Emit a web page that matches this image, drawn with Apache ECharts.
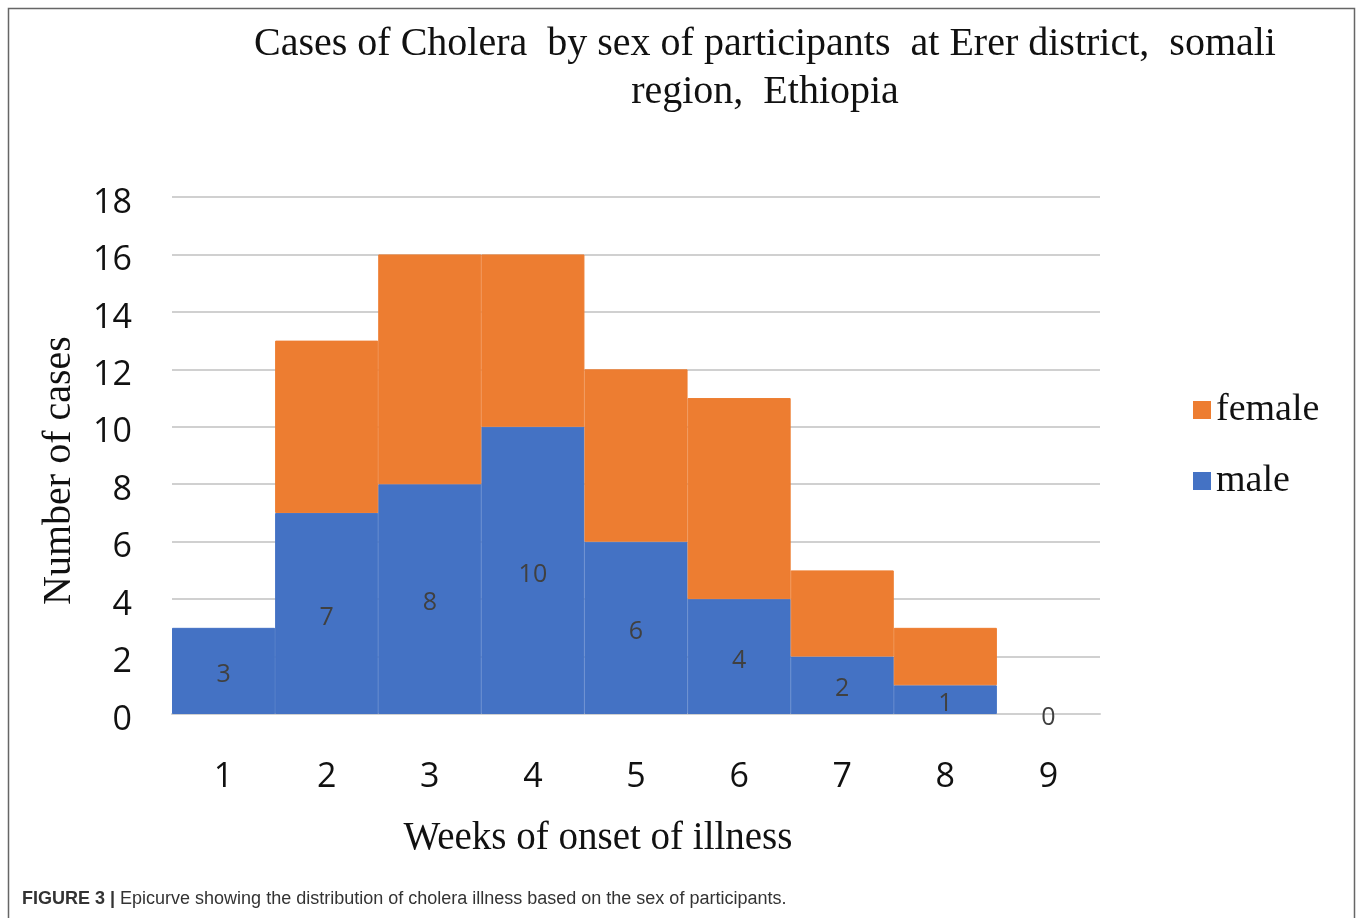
<!DOCTYPE html>
<html>
<head>
<meta charset="utf-8">
<script src="https://cdn.jsdelivr.net/npm/echarts@6/dist/echarts.min.js"></script>
<style>
  html, body { margin: 0; padding: 0; background: #fff; }
  #chart { width: 1358px; height: 918px; }
</style>
</head>
<body>
<div id="chart"></div>
<script>
  // weeks of onset
  var weeks = ['1', '2', '3', '4', '5', '6', '7', '8', '9'];
  // cases per week, by sex
  var male = [3, 7, 8, 10, 6, 4, 2, 1, 0];
  var female = [0, 6, 8, 6, 6, 7, 3, 2, 0];

  var serif = '"Liberation Serif", "DejaVu Serif", serif';
  var sans = '"Open Sans", "Liberation Sans", sans-serif';

  // same-colour border hides the seams between touching bars, none on empty bars
  function bars(values, color) {
    return values.map(function (v) {
      return { value: v, itemStyle: { borderColor: color, borderWidth: v > 0 ? 1 : 0 } };
    });
  }

  var chart = echarts.init(document.getElementById('chart'));
  chart.setOption({
    backgroundColor: '#fff',
    animation: false,
    title: {
      text: 'Cases of Cholera  by sex of participants  at Erer district,  somali\nregion,  Ethiopia',
      left: 760,
      top: 15,
      textAlign: 'center',
      textStyle: { fontFamily: serif, fontSize: 40, fontWeight: 'normal', color: '#111', lineHeight: 48 }
    },
    legend: {
      orient: 'vertical',
      left: 1188,
      top: 386,
      data: ['female', 'male'],
      icon: 'rect',
      itemWidth: 18,
      itemHeight: 18,
      itemGap: 33,
      textStyle: { fontFamily: serif, fontSize: 38, color: '#111', lineHeight: 38 }
    },
    grid: { left: 172, right: 258, top: 197, bottom: 204 },
    xAxis: {
      type: 'category',
      data: weeks,
      name: 'Weeks of onset of illness',
      nameLocation: 'middle',
      nameGap: 105,
      nameTextStyle: { fontFamily: serif, fontSize: 39, color: '#111', padding: [0, 76, 0, 0] },
      axisLine: { lineStyle: { color: '#d0d0d0', width: 2 } },
      axisTick: { show: false },
      axisLabel: { fontFamily: sans, fontSize: 34, color: '#111', margin: 46 }
    },
    yAxis: {
      type: 'value',
      min: 0,
      max: 18,
      interval: 2,
      name: 'Number of cases',
      nameLocation: 'middle',
      nameGap: 93,
      nameTextStyle: { fontFamily: serif, fontSize: 40, color: '#111', padding: [0, 0, 0, -30] },
      axisLine: { show: false },
      axisTick: { show: false },
      splitLine: { lineStyle: { color: '#d0d0d0', width: 2 } },
      axisLabel: { fontFamily: sans, fontSize: 34, color: '#111', margin: 40, verticalAlign: 'top', lineHeight: 12 }
    },
    series: [
      {
        name: 'male',
        type: 'bar',
        stack: 'cases',
        data: bars(male, '#4472C4'),
        barCategoryGap: '0%',
        itemStyle: { color: '#4472C4' },
        label: {
          show: true,
          position: 'inside',
          offset: [0, 4],
          color: '#404040',
          fontFamily: sans,
          fontSize: 25
        }
      },
      {
        name: 'female',
        type: 'bar',
        stack: 'cases',
        data: bars(female, '#ED7D31'),
        barCategoryGap: '0%',
        itemStyle: { color: '#ED7D31' }
      }
    ],
    graphic: [
      {
        type: 'rect',
        shape: { x: 8.5, y: 8.5, width: 1346, height: 940 },
        style: { fill: null, stroke: '#666', lineWidth: 1.5 },
        silent: true
      },
      {
        type: 'text',
        left: 22,
        top: 890,
        style: {
          text: '{b|FIGURE 3 |} Epicurve showing the distribution of cholera illness based on the sex of participants.',
          font: '18px "Liberation Sans", sans-serif',
          fill: '#333',
          rich: {
            b: { fontWeight: 'bold', fontFamily: '"Liberation Sans", sans-serif', fontSize: 18, fill: '#333' }
          }
        }
      }
    ]
  });
</script>
</body>
</html>
